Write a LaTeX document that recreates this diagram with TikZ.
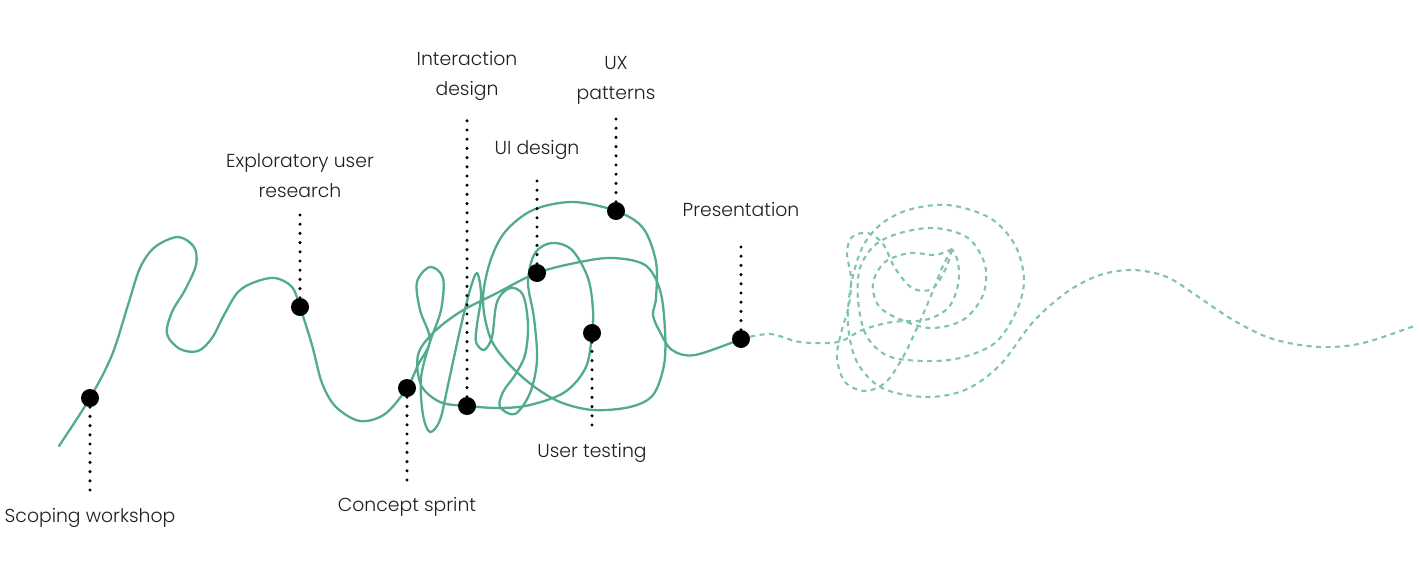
\documentclass[tikz,border=0pt]{standalone}
\usepackage{fontspec}
\setmainfont{Poppins}[UprightFont={* Light}]
\definecolor{grn}{RGB}{82,172,140}
\definecolor{lgrn}{RGB}{128,196,170}
\begin{document}
\begin{tikzpicture}[x=1pt,y=-1pt,
  curve/.style={draw=grn,line width=2.3pt,line join=round,line cap=round},
  dcurve/.style={draw=lgrn,line width=2.1pt,dash pattern=on 5pt off 4.5pt},
  milestone/.style={circle,fill=black,minimum size=18pt,inner sep=0pt},
  leader/.style={line width=3.4pt,dash pattern=on 0pt off 9.2pt,line cap=round},
  lbl/.style={font=\fontsize{18.8}{30}\selectfont,align=center,text=black!88}]
\useasboundingbox (0,0) rectangle (1420,578);

% solid path
\draw[curve] plot[smooth,tension=0.55] coordinates {
 (59,446) (90,398) (112,355) (128,305) (140,268) (155,247) (178,237) (194,247) (196,265) (185,290) (172,312) (167,334) (180,349) (198,351) (212,338) (224,315) (238,292) (255,282) (275,278) (292,287) (300,307) (312,345) (322,383) (336,407) (360,421) (385,414) (407,388)
 (418,365) (430,340) (420,310) (417,282) (430,267) (443,278) (441,310) (430,342) (421,378) (423,415) (430,432) (440,420) (448,385) (460,330) (470,290) (477,273) (481,295) (477,325) (476,342) (484,350) (492,337) (497,302) (510,288) (523,295) (528,325) (525,355) (515,375) (503,392) (500,407) (515,414) (530,393) (537,360) (534,318) (528,282) (535,253) (552,243) (572,250) (588,278) (593,310) (592,333) (586,367) (565,392) (530,405) (500,408) (467,406) (440,402) (421,385) (418,355) (433,333) (460,312) (495,294) (537,273) (580,262) (613,258) (645,265) (660,290) (665,330) (664,365) (653,395) (630,407) (593,410) (560,402) (532,385) (507,362) (490,337) (483,300) (490,262) (505,232) (533,210) (573,202) (616,211) (643,228) (656,262) (656,298) (653,315) (660,332) (672,350) (695,355) (741,339)};

% dashed path
\draw[dcurve] plot[smooth,tension=0.55] coordinates {
 (741,339) (770,334) (800,342) (838,342) (862,330) (892,322) (925,320) (948,308) (958,285) (958,262) (952,249)};
\draw[dcurve] plot[smooth,tension=0.55] coordinates {
 (952,249) (942,268) (930,298) (917,328) (903,357) (886,382) (865,391) (845,382) (837,358) (841,333) (849,305) (851,278) (847,253) (852,237) (868,233) (883,244) (895,268) (912,288) (932,289) (946,268) (952,249)};
\draw[dcurve] plot[smooth,tension=0.55] coordinates {
 (952,249) (935,255) (910,253) (885,262) (873,283) (878,305) (897,318) (930,328) (963,320) (983,295) (985,265) (968,238) (935,228) (900,233) (875,245) (860,268) (858,300) (866,335) (888,356) (925,361) (960,358) (995,343) (1016,312) (1024,280) (1015,245) (990,218) (948,205) (908,210) (880,225) (862,248) (851,285) (848,325) (857,362) (882,388) (925,397) (965,390) (1000,365) (1033,322) (1067,292) (1100,275) (1133,270) (1167,277) (1200,298) (1233,320) (1267,337) (1300,345) (1333,347) (1367,342) (1417,325)};

% milestones
\node[milestone] (scope) at (90,398) {};
\node[milestone] (explore) at (300,307) {};
\node[milestone] (concept) at (407,388) {};
\node[milestone] (inter) at (467,406) {};
\node[milestone] (ui) at (537,273) {};
\node[milestone] (ux) at (616,211) {};
\node[milestone] (test) at (592,333) {};
\node[milestone] (pres) at (741,339) {};

\coordinate (scopeE) at (90,492);
\coordinate (exploreE) at (300,213);
\coordinate (conceptE) at (407,483);
\coordinate (interE) at (467,118);
\coordinate (uiE) at (537,177);
\coordinate (uxE) at (616,115);
\coordinate (testE) at (592,428);
\coordinate (presE) at (741,241);

\draw[leader] (scope) -- (scopeE);
\draw[leader] (explore) -- (exploreE);
\draw[leader] (concept) -- (conceptE);
\draw[leader] (inter) -- (interE);
\draw[leader] (ui) -- (uiE);
\draw[leader] (ux) -- (uxE);
\draw[leader] (test) -- (testE);
\draw[leader] (pres) -- (presE);

% labels
\node[lbl] (scopeL) at (90,518) {Scoping workshop};
\node[lbl] (exploreL) at (300,176) {Exploratory user\\research};
\node[lbl] (conceptL) at (407,507) {Concept sprint};
\node[lbl] (interL) at (467,76) {Interaction\\design};
\node[lbl] (uiL) at (537,150) {UI design};
\node[lbl] (uxL) at (616,80) {UX\\patterns};
\node[lbl] (testL) at (592,453) {User testing};
\node[lbl] (presL) at (741,210) {Presentation};
\end{tikzpicture}
\end{document}
